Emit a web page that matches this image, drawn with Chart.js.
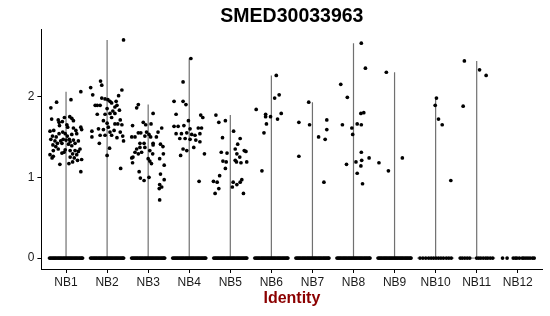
<!DOCTYPE html>
<html>
<head>
<meta charset="utf-8">
<script src="https://cdn.jsdelivr.net/npm/chart.js@4/dist/chart.umd.min.js"></script>
<style>
  html, body { margin: 0; padding: 0; background: #fff; }
  #wrap { width: 550px; height: 316px; }
</style>
</head>
<body>
<div id="wrap"><canvas id="c" width="550" height="316"></canvas></div>
<script>
const chartTitle = 'SMED30033963';
const xTitle = 'Identity';
const categories = ['NB1','NB2','NB3','NB4','NB5','NB6','NB7','NB8','NB9','NB10','NB11','NB12'];
const yTicks = [0, 1, 2];

// non-zero cells: [jitter offset (category units), expression value]
const nb1 = [[-0.23,1.93],[-0.37,1.86],[0.12,1.96],[0.36,2.06],[-0.35,1.72],[-0.19,1.71],[-0.17,1.68],[-0.09,1.69],[-0.04,1.74],[0.09,1.75],[0.14,1.73],[0.18,1.70],[-0.16,1.64],[0.02,1.65],[0.04,1.62],[-0.39,1.57],[-0.30,1.58],[-0.08,1.56],[0.18,1.61],[0.24,1.58],[0.36,1.62],[0.38,1.59],[-0.33,1.51],[-0.24,1.50],[-0.17,1.54],[-0.02,1.54],[0.03,1.51],[0.14,1.53],[0.26,1.54],[-0.37,1.47],[-0.27,1.45],[-0.21,1.42],[-0.13,1.45],[-0.07,1.47],[0.00,1.46],[0.08,1.47],[0.10,1.44],[0.18,1.46],[0.30,1.45],[-0.32,1.40],[-0.25,1.38],[-0.10,1.42],[0.06,1.41],[0.14,1.39],[0.22,1.42],[-0.31,1.33],[-0.19,1.35],[-0.02,1.34],[0.10,1.33],[0.22,1.33],[0.30,1.32],[0.34,1.35],[-0.39,1.28],[-0.31,1.26],[-0.10,1.30],[-0.05,1.31],[0.16,1.29],[0.26,1.28],[-0.34,1.24],[0.10,1.25],[0.20,1.24],[0.28,1.21],[0.38,1.22],[-0.15,1.16],[0.07,1.17],[0.16,1.19],[0.36,1.07]];
const nb2 = [[-0.40,2.11],[-0.16,2.19],[-0.13,2.14],[-0.35,2.02],[0.36,2.08],[0.28,2.01],[-0.13,1.98],[-0.05,1.97],[0.02,1.96],[0.07,1.94],[0.22,1.94],[-0.24,1.89],[-0.17,1.89],[0.11,1.92],[0.19,1.87],[0.24,1.89],[-0.29,1.89],[0.00,1.85],[0.14,1.82],[0.30,1.83],[-0.24,1.78],[-0.05,1.78],[0.07,1.79],[0.19,1.79],[-0.09,1.70],[0.11,1.74],[0.32,1.71],[0.00,1.67],[0.19,1.66],[0.26,1.66],[0.36,1.65],[-0.37,1.57],[-0.21,1.60],[-0.09,1.59],[0.03,1.62],[0.07,1.56],[0.17,1.58],[0.32,1.56],[-0.37,1.50],[-0.17,1.52],[-0.05,1.52],[0.11,1.52],[0.24,1.49],[0.38,1.51],[-0.19,1.42],[0.40,1.45],[0.06,1.36],[0.00,1.27],[0.33,1.11],[0.40,2.70]];
const nb3 = [[-0.24,1.90],[-0.28,1.86],[0.12,1.79],[-0.38,1.64],[-0.12,1.68],[-0.06,1.65],[0.07,1.66],[0.33,1.61],[-0.24,1.55],[-0.18,1.55],[-0.04,1.56],[0.02,1.53],[0.24,1.56],[-0.40,1.50],[-0.32,1.50],[-0.08,1.51],[0.06,1.50],[0.20,1.50],[-0.20,1.42],[-0.10,1.42],[0.12,1.42],[0.30,1.41],[-0.28,1.35],[-0.20,1.37],[-0.08,1.37],[0.12,1.40],[0.36,1.38],[-0.32,1.31],[-0.24,1.29],[-0.16,1.31],[0.04,1.33],[0.11,1.29],[0.37,1.29],[-0.40,1.24],[-0.37,1.25],[0.00,1.23],[0.04,1.20],[0.08,1.17],[0.28,1.23],[0.39,1.15],[-0.38,1.18],[-0.22,1.07],[-0.19,0.99],[-0.10,0.96],[0.02,1.00],[0.30,1.04],[0.39,0.97],[0.28,0.91],[0.33,0.88],[0.27,0.86],[0.28,0.72]];
const nb4 = [[0.04,2.47],[-0.15,2.18],[-0.37,1.94],[-0.15,1.94],[-0.08,1.90],[-0.32,1.78],[0.28,1.77],[0.33,1.74],[-0.02,1.70],[-0.37,1.63],[-0.27,1.63],[-0.13,1.64],[0.02,1.60],[0.22,1.61],[0.30,1.61],[-0.32,1.54],[-0.19,1.54],[-0.06,1.55],[0.06,1.53],[0.14,1.52],[0.26,1.54],[-0.23,1.48],[-0.10,1.48],[0.02,1.47],[0.16,1.46],[0.26,1.44],[-0.15,1.35],[-0.06,1.33],[0.11,1.37],[-0.21,1.27],[0.37,1.29],[0.24,0.95]];
const nb5 = [[-0.35,1.77],[-0.28,1.68],[-0.12,1.70],[0.08,1.57],[-0.19,1.49],[0.24,1.48],[0.18,1.41],[0.12,1.35],[0.34,1.33],[0.38,1.32],[-0.22,1.31],[-0.08,1.30],[0.16,1.29],[0.23,1.25],[-0.18,1.20],[-0.10,1.19],[0.12,1.21],[0.15,1.19],[0.26,1.18],[0.40,1.19],[-0.12,1.11],[-0.26,1.02],[-0.41,0.95],[-0.32,0.94],[0.07,0.94],[0.16,0.91],[0.24,0.94],[0.28,0.97],[0.05,0.88],[-0.37,0.80],[0.32,0.80],[-0.28,0.86]];
const nb6 = [[0.12,2.26],[0.08,1.98],[0.19,2.02],[-0.37,1.84],[-0.14,1.78],[-0.14,1.75],[-0.02,1.75],[0.24,1.79],[0.15,1.72],[-0.12,1.66],[-0.18,1.55],[-0.23,1.08]];
const nb7 = [[-0.09,1.93],[-0.33,1.68],[-0.07,1.65],[0.35,1.71],[0.35,1.59],[0.15,1.50],[0.31,1.47],[-0.33,1.26],[0.28,0.94]];
const nb8 = [[0.19,2.66],[0.29,2.35],[-0.31,2.15],[-0.15,1.99],[0.18,1.79],[0.25,1.80],[-0.27,1.65],[0.09,1.66],[0.19,1.65],[-0.04,1.61],[-0.02,1.53],[0.19,1.31],[0.38,1.24],[0.20,1.21],[0.06,1.19],[-0.17,1.16],[0.18,1.14],[0.09,1.05],[0.22,0.92]];
const nb9 = [[-0.20,2.30],[-0.38,1.18],[-0.15,1.08],[0.19,1.24]];
const nb10 = [[0.02,1.98],[-0.01,1.89],[0.07,1.72],[0.16,1.65],[0.37,0.96]];
const nb11 = [[-0.30,2.44],[0.07,2.33],[0.23,2.26],[-0.33,1.88]];
const nb12 = [];

// jitter offsets of the zero-valued cells
const zeroDense = [-0.40,-0.37,-0.34,-0.31,-0.28,-0.25,-0.22,-0.19,-0.16,-0.13,-0.10,-0.07,-0.04,-0.01,0.02,0.05,0.08,0.11,0.14,0.17,0.20,0.23,0.26,0.29,0.32,0.35,0.38,0.40];
const nb10Zero = [-0.38,-0.31,-0.24,-0.17,-0.11,-0.05,0.01,0.07,0.13,0.19,0.26,0.32,0.38];
const nb11Zero = [-0.40,-0.35,-0.29,-0.23,-0.17,0.00,0.05,0.10,0.16,0.22,0.27,0.33,0.39];
const nb12Zero = [-0.37,-0.26,-0.11,-0.06,-0.02,0.04,0.11,0.15,0.20,0.25,0.30,0.36,0.40];

const groupPoints = [nb1, nb2, nb3, nb4, nb5, nb6, nb7, nb8, nb9, nb10, nb11, nb12];
const groupZeros = [zeroDense, zeroDense, zeroDense, zeroDense, zeroDense, zeroDense, zeroDense, zeroDense, zeroDense, nb10Zero, nb11Zero, nb12Zero];
const violinHalfWidth = 0.45;

const datasets = [];
groupPoints.forEach((pts, i) => {
  const maxV = Math.max(0, ...pts.map(p => p[1]));
  if (maxV > 0) {
    datasets.push({
      data: [{x: i, y: 0}, {x: i, y: maxV}],
      showLine: true,
      borderColor: '#707070',
      borderWidth: 1.2,
      pointRadius: 0,
      order: 2
    });
    datasets.push({
      data: [{x: i - violinHalfWidth, y: 0}, {x: i + violinHalfWidth, y: 0}],
      showLine: true,
      borderColor: '#707070',
      borderWidth: 1,
      pointRadius: 0,
      order: 2
    });
  }
});
groupPoints.forEach((pts, i) => {
  const data = groupZeros[i].map(o => ({x: i + o, y: 0}))
    .concat(pts.map(p => ({x: i + p[0], y: p[1]})));
  datasets.push({
    data: data,
    showLine: false,
    pointRadius: 1.85,
    pointBackgroundColor: '#000',
    pointBorderWidth: 0,
    borderWidth: 0,
    order: 1
  });
});

Chart.defaults.font.family = "'Liberation Sans', Arial, Helvetica, sans-serif";
Chart.defaults.color = '#1a1a1a';

new Chart(document.getElementById('c'), {
  type: 'scatter',
  data: { datasets: datasets },
  options: {
    responsive: false,
    animation: false,
    layout: { padding: { left: 0, right: 7.6, top: 0, bottom: 0 } },
    plugins: {
      legend: { display: false },
      tooltip: { enabled: false },
      title: {
        display: true,
        text: chartTitle,
        fullSize: false,
        color: '#000',
        font: { size: 19.5, weight: 'bold' },
        padding: { top: 4.7, bottom: 0.9 }
      }
    },
    scales: {
      x: {
        type: 'linear',
        min: -0.6,
        max: 11.6,
        afterFit: s => { s.height = 47; },
        afterBuildTicks: s => { s.ticks = categories.map((c, i) => ({value: i})); },
        ticks: {
          callback: v => categories[v],
          autoSkip: false,
          maxRotation: 0,
          padding: 2,
          color: '#1a1a1a',
          font: { size: 12 }
        },
        grid: { display: true, drawOnChartArea: false, drawTicks: true, tickLength: 4, color: '#000', lineWidth: 1 },
        border: { display: true, color: '#000', width: 1 },
        title: {
          display: true,
          text: xTitle,
          color: '#8b0000',
          font: { size: 16, weight: 'bold' },
          padding: { top: 0, bottom: 8 }
        }
      },
      y: {
        type: 'linear',
        min: -0.135,
        max: 2.835,
        afterFit: s => { s.width = 41.4; },
        afterBuildTicks: s => { s.ticks = yTicks.map(v => ({value: v})); },
        ticks: {
          padding: 3,
          color: '#1a1a1a',
          font: { size: 12 }
        },
        grid: { display: true, drawOnChartArea: false, drawTicks: true, tickLength: 4, color: '#000', lineWidth: 1 },
        border: { display: true, color: '#000', width: 1 }
      }
    }
  }
});
</script>
</body>
</html>
